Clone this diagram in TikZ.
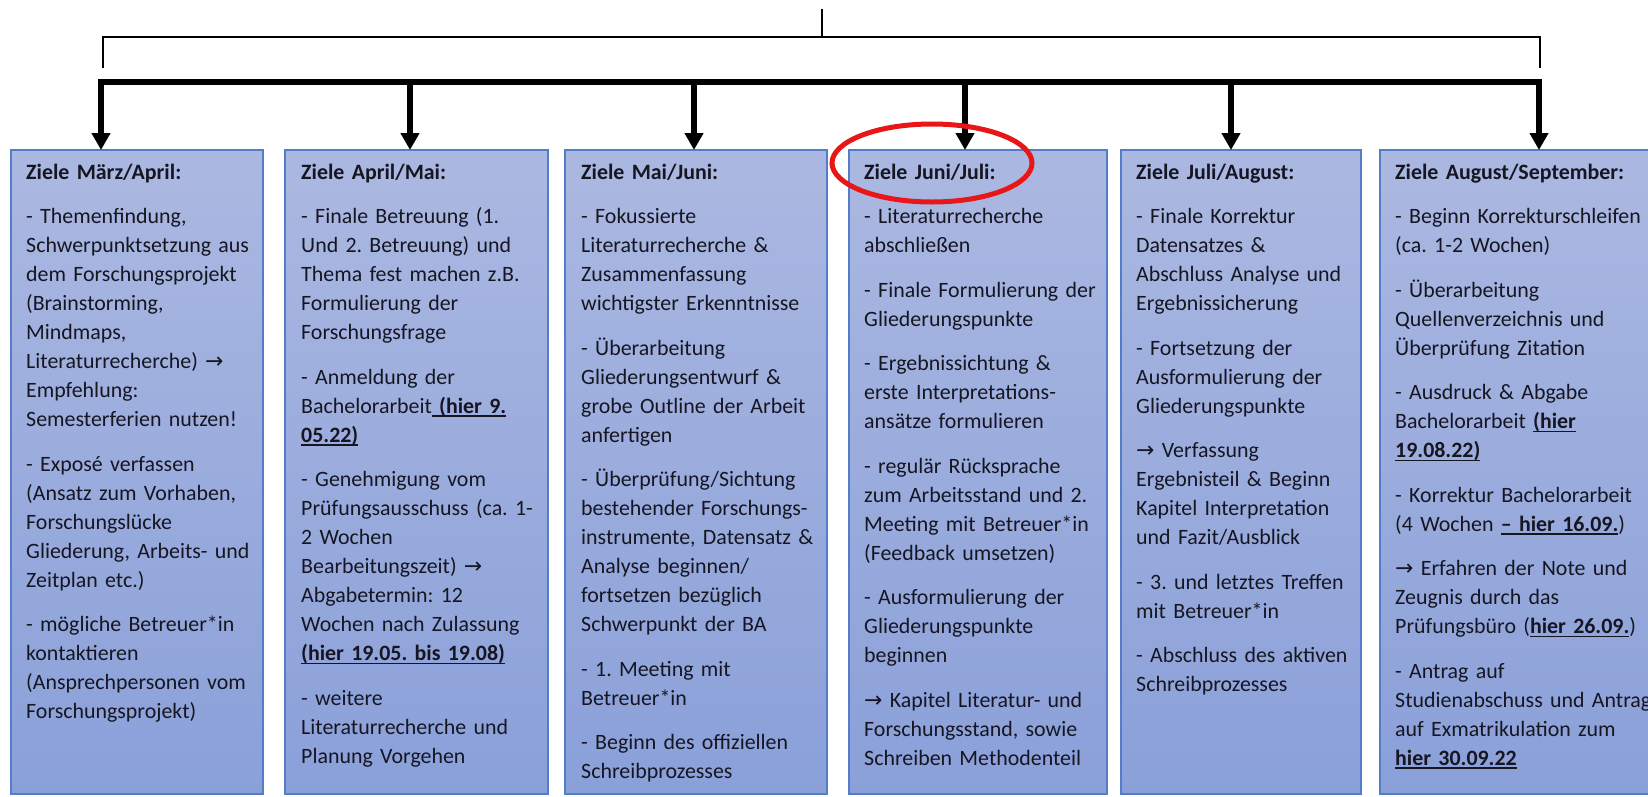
\documentclass[tikz,border=0pt]{standalone}
\usepackage{fontspec}
\setmainfont{Carlito}
\newfontfamily\arrowfont{DejaVu Sans}
\usetikzlibrary{arrows.meta}
\definecolor{boxtop}{RGB}{171,184,225}
\definecolor{boxbot}{RGB}{138,160,217}
\definecolor{boxline}{RGB}{84,124,200}
\definecolor{inkdark}{RGB}{22,22,34}
\definecolor{markred}{RGB}{232,22,22}
% bold, underlined date remark
\newcommand\ulbf[1]{\leavevmode\setbox0=\hbox{\bfseries #1}\rlap{\rule[-3.4pt]{\wd0}{1.6pt}}\box0}
\newcommand\rarr{\leavevmode{\arrowfont →}}
\newcommand\firstline{\leavevmode\rule{0pt}{22pt}}

\begin{document}
\frenchspacing
\begin{tikzpicture}[x=1pt,y=-1pt,
  goalbox/.style={draw=boxline,line width=1.4pt,top color=boxtop,bottom color=boxbot,
    minimum height=644pt,anchor=north west,inner sep=0pt,outer sep=0pt},
  goaltext/.style={anchor=north west,inner sep=0pt,text width=290pt,align=left,
    text=inkdark,font=\frenchspacing\fontsize{21.9}{29}\selectfont},
  thinline/.style={line width=2pt},
  busline/.style={line width=5.5pt,line cap=rect},
  feed/.style={line width=5.5pt,-{Triangle[length=17pt,width=18pt]}}]

\useasboundingbox (0,0) rectangle (1648,796);

% columns
\node[goalbox,minimum width=252pt] (b1) at (11,150) {};
\node[goalbox,minimum width=263pt] (b2) at (285,150) {};
\node[goalbox,minimum width=262pt] (b3) at (565,150) {};
\node[goalbox,minimum width=258pt] (b4) at (849,150) {};
\node[goalbox,minimum width=240pt] (b5) at (1121,150) {};
\node[goalbox,minimum width=290pt] (b6) at (1380,150) {};

\node[goaltext] (t1) at (26,157) {\firstline\textbf{Ziele März/April:}\\[15.5pt]
- Themenfindung,\\
Schwerpunktsetzung aus\\
dem Forschungsprojekt\\
(Brainstorming,\\
Mindmaps,\\
Literaturrecherche) \rarr\\
Empfehlung:\\
Semesterferien nutzen!\\[15.5pt]
- Exposé verfassen\\
(Ansatz zum Vorhaben,\\
Forschungslücke\\
Gliederung, Arbeits- und\\
Zeitplan etc.)\\[15.5pt]
- mögliche Betreuer*in\\
kontaktieren\\
(Ansprechpersonen vom\\
Forschungsprojekt)};

\node[goaltext] (t2) at (301,157) {\firstline\textbf{Ziele April/Mai:}\\[15.5pt]
- Finale Betreuung (1.\\
Und 2. Betreuung) und\\
Thema fest machen z.B.\\
Formulierung der\\
Forschungsfrage\\[15.5pt]
- Anmeldung der\\
Bachelorarbeit\ulbf{~(hier 9.}\\
\ulbf{05.22)}\\[15.5pt]
- Genehmigung vom\\
Prüfungsausschuss (ca. 1-\\
2 Wochen\\
Bearbeitungszeit) \rarr\\
Abgabetermin: 12\\
Wochen nach Zulassung\\
\ulbf{(hier 19.05. bis 19.08)}\\[15.5pt]
- weitere\\
Literaturrecherche und\\
Planung Vorgehen};

\node[goaltext] (t3) at (581,157) {\firstline\textbf{Ziele Mai/Juni:}\\[15.5pt]
- Fokussierte\\
Literaturrecherche \&\\
Zusammenfassung\\
wichtigster Erkenntnisse\\[15.5pt]
- Überarbeitung\\
Gliederungsentwurf \&\\
grobe Outline der Arbeit\\
anfertigen\\[15.5pt]
- Überprüfung/Sichtung\\
bestehender Forschungs-\\
instrumente, Datensatz \&\\
Analyse beginnen/\\
fortsetzen bezüglich\\
Schwerpunkt der BA\\[15.5pt]
- 1. Meeting mit\\
Betreuer*in\\[15.5pt]
- Beginn des offiziellen\\
Schreibprozesses};

\node[goaltext] (t4) at (864,157) {\firstline\textbf{Ziele Juni/Juli:}\\[15.5pt]
- Literaturrecherche\\
abschließen\\[15.5pt]
- Finale Formulierung der\\
Gliederungspunkte\\[15.5pt]
- Ergebnissichtung \&\\
erste Interpretations-\\
ansätze formulieren\\[15.5pt]
- regulär Rücksprache\\
zum Arbeitsstand und 2.\\
Meeting mit Betreuer*in\\
(Feedback umsetzen)\\[15.5pt]
- Ausformulierung der\\
Gliederungspunkte\\
beginnen\\[15.5pt]
\rarr{} Kapitel Literatur- und\\
Forschungsstand, sowie\\
Schreiben Methodenteil};

\node[goaltext] (t5) at (1136,157) {\firstline\textbf{Ziele Juli/August:}\\[15.5pt]
- Finale Korrektur\\
Datensatzes \&\\
Abschluss Analyse und\\
Ergebnissicherung\\[15.5pt]
- Fortsetzung der\\
Ausformulierung der\\
Gliederungspunkte\\[15.5pt]
\rarr{} Verfassung\\
Ergebnisteil \& Beginn\\
Kapitel Interpretation\\
und Fazit/Ausblick\\[15.5pt]
- 3. und letztes Treffen\\
mit Betreuer*in\\[15.5pt]
- Abschluss des aktiven\\
Schreibprozesses};

\node[goaltext] (t6) at (1395,157) {\firstline\textbf{Ziele August/September:}\\[15.5pt]
- Beginn Korrekturschleifen\\
(ca. 1-2 Wochen)\\[15.5pt]
- Überarbeitung\\
Quellenverzeichnis und\\
Überprüfung Zitation\\[15.5pt]
- Ausdruck \& Abgabe\\
Bachelorarbeit \ulbf{(hier}\\
\ulbf{19.08.22)}\\[15.5pt]
- Korrektur Bachelorarbeit\\
(4 Wochen \ulbf{– hier 16.09.})\\[15.5pt]
\rarr{} Erfahren der Note und\\
Zeugnis durch das\\
Prüfungsbüro (\ulbf{hier 26.09.})\\[15.5pt]
- Antrag auf\\
Studienabschuss und Antrag\\
auf Exmatrikulation zum\\
\ulbf{hier 30.09.22}};

% upper bracket
\coordinate (root) at (822,9);
\coordinate (brL) at (103,37);
\coordinate (brR) at (1540,37);
\coordinate (brLd) at (103,68);
\coordinate (brRd) at (1540,68);
\draw[thinline] (root) -- (root |- brL);
\draw[thinline] (brLd) -- (brL) -- (brR) -- (brRd);

% distribution bar and feeds
\coordinate (a1) at (101,82);
\coordinate (a2) at (410,82);
\coordinate (a3) at (694,82);
\coordinate (a4) at (965,82);
\coordinate (a5) at (1231,82);
\coordinate (a6) at (1539,82);
\draw[busline] (a1) -- (a6);
\foreach \i in {1,...,6}
  \draw[feed] (a\i) -- (a\i |- b\i.north);

% highlight
\draw[markred,line width=5pt] (932,163) ellipse [x radius=100, y radius=39];
\end{tikzpicture}
\end{document}
